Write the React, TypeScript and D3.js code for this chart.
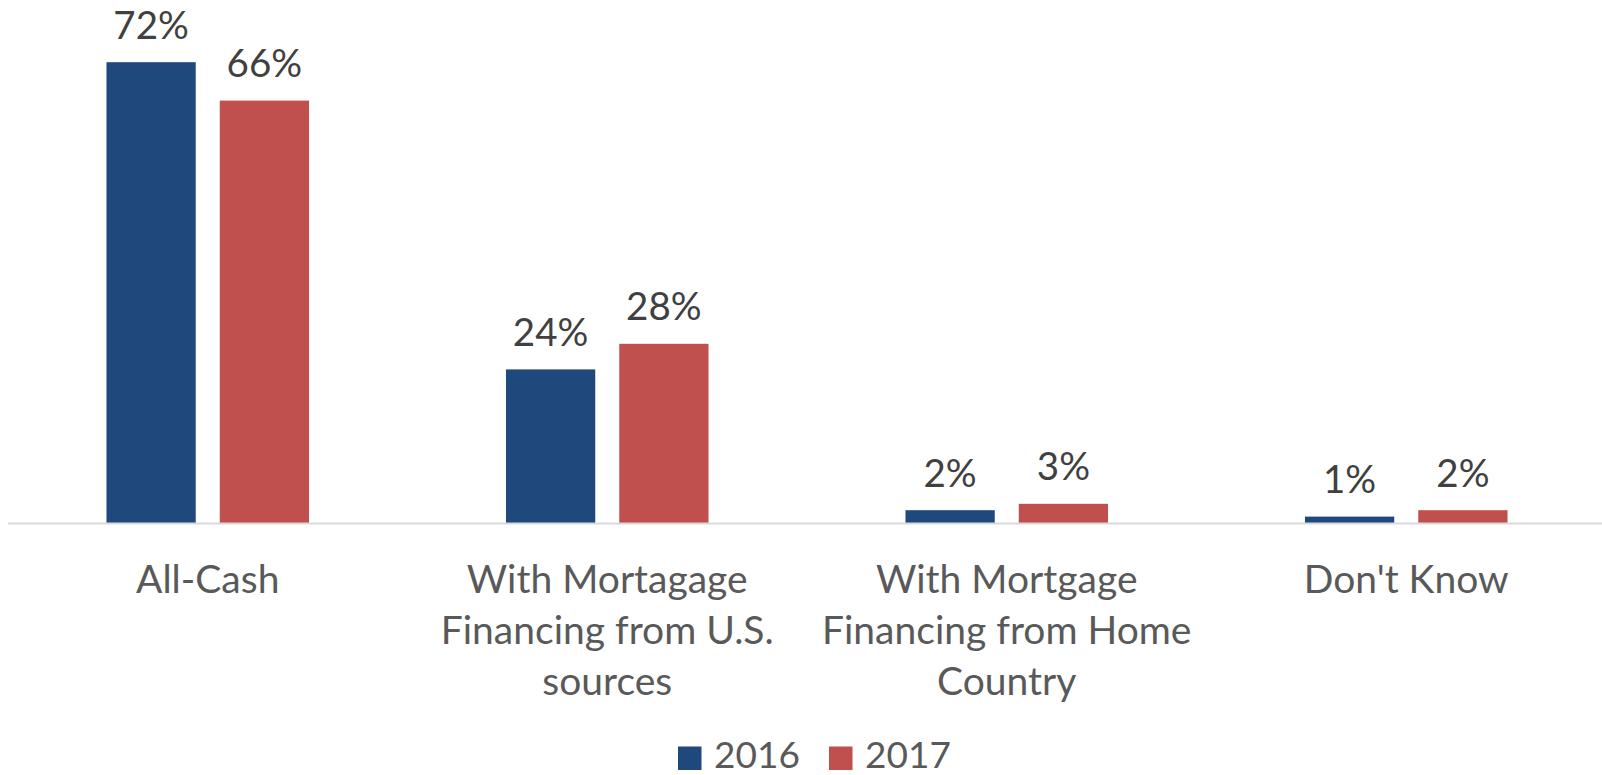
import React from "react";
import * as d3 from "d3";

const categories: string[][] = [
  ["All-Cash"],
  ["With Mortagage", "Financing from U.S.", "sources"],
  ["With Mortgage", "Financing from Home", "Country"],
  ["Don't Know"],
];
const seriesNames = ["2016", "2017"];
const values2016 = [72, 24, 2, 1];
const values2017 = [66, 28, 3, 2];
const colors = ["#1F497D", "#C0504D"];

const W = 1602;
const H = 775;
const FONT = "Lato, 'Open Sans', sans-serif";

export default function App() {
  const series = [values2016, values2017];
  const keys = categories.map((c) => c.join(" "));
  const x0 = d3
    .scaleBand<string>()
    .domain(keys)
    .range([8, 1606])
    .paddingInner(0.493)
    .paddingOuter(0.2465);
  const x1 = d3
    .scaleBand<string>()
    .domain(seriesNames)
    .range([0, x0.bandwidth()])
    .paddingInner(0.212);
  const y = d3.scaleLinear().domain([0, 72]).range([523, 62.2]);

  return (
    <svg
      width={W}
      height={H}
      style={{ position: "absolute", left: 0, top: 0, background: "#fff" }}
      fontFamily={FONT}
    >
      {keys.map((k, ci) =>
        series.map((vals, si) => {
          const v = vals[ci];
          const bx = (x0(k) ?? 0) + (x1(seriesNames[si]) ?? 0);
          const bw = x1.bandwidth();
          return (
            <g key={k + si}>
              <rect
                x={bx}
                y={y(v)}
                width={bw}
                height={y(0) - y(v)}
                fill={colors[si]}
              />
              <text
                x={bx + bw / 2}
                y={y(v) - 23.5}
                textAnchor="middle"
                fontSize={38.5}
                fill="#404040"
              >
                {v}%
              </text>
            </g>
          );
        })
      )}
      <line x1={8} x2={1602} y1={y(0) + 0.5} y2={y(0) + 0.5} stroke="#D9D9D9" strokeWidth={2} />
      {categories.map((lines, ci) => (
        <text
          key={ci}
          x={(x0(keys[ci]) ?? 0) + x0.bandwidth() / 2}
          y={593}
          textAnchor="middle"
          fontSize={39}
          fill="#595959"
        >
          {lines.map((l, li) => (
            <tspan key={li} x={(x0(keys[ci]) ?? 0) + x0.bandwidth() / 2} dy={li === 0 ? 0 : 51}>
              {l}
            </tspan>
          ))}
        </text>
      ))}
      {seriesNames.map((s, si) => (
        <g key={s} transform={`translate(${678 + si * 151},0)`}>
          <rect x={0} y={746.5} width={23.5} height={23.5} fill={colors[si]} />
          <text x={36} y={768} fontSize={37} fill="#595959">
            {s}
          </text>
        </g>
      ))}
    </svg>
  );
}
